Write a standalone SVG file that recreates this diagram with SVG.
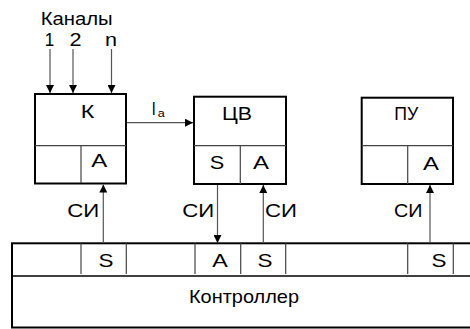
<svg xmlns="http://www.w3.org/2000/svg" width="470" height="329" viewBox="0 0 470 329">
<defs>
<marker id="ah" viewBox="0 0 10 10" refX="10" refY="5" markerWidth="8" markerHeight="8" markerUnits="userSpaceOnUse" orient="auto">
<path d="M0,0 L10,5 L0,10 z" fill="#000"/>
</marker>
<style>
text{font-family:"Liberation Sans",Arial,sans-serif;font-size:17.5px;fill:#000;text-anchor:middle}
.big{font-size:19px}
.box{fill:#fff;stroke:#000;stroke-width:2}
.div{stroke:#444;stroke-width:1.2;fill:none}
.arr{stroke:#555;stroke-width:1.2;fill:none;marker-end:url(#ah)}
</style>
</defs>
<rect width="470" height="329" fill="#fff"/>
<g id="inputs">
<text x="76.7" y="25" textLength="72" lengthAdjust="spacingAndGlyphs">Каналы</text>
<text x="49.5" y="46" textLength="9.5" lengthAdjust="spacingAndGlyphs">1</text>
<text x="75.5" y="46" textLength="12" lengthAdjust="spacingAndGlyphs">2</text>
<text x="111" y="46" textLength="12" lengthAdjust="spacingAndGlyphs">n</text>
</g>
<g id="node-K">
<rect class="box" x="35" y="94" width="91" height="89.5"/>
<line class="div" x1="35" y1="145.7" x2="126" y2="145.7"/>
<line class="div" x1="81" y1="145.7" x2="81" y2="183"/>
<text x="87.5" y="118" textLength="13.5" lengthAdjust="spacingAndGlyphs">К</text>
<text x="99.2" y="167" textLength="16" lengthAdjust="spacingAndGlyphs">A</text>
</g>
<g id="node-CV">
<rect class="box" x="194" y="96.7" width="92" height="87.3"/>
<line class="div" x1="194" y1="145.7" x2="286" y2="145.7"/>
<line class="div" x1="240.3" y1="145.7" x2="240.3" y2="184"/>
<text x="236.9" y="120" textLength="30" lengthAdjust="spacingAndGlyphs">ЦВ</text>
<text x="217" y="169.3" textLength="14.5" lengthAdjust="spacingAndGlyphs">S</text>
<text x="261" y="169.3" textLength="16" lengthAdjust="spacingAndGlyphs">A</text>
</g>
<g id="node-PU">
<rect class="box" x="361.7" y="97.7" width="91.3" height="86.3"/>
<line class="div" x1="361.7" y1="145.7" x2="453" y2="145.7"/>
<line class="div" x1="407.7" y1="145.7" x2="407.7" y2="184"/>
<text x="406.2" y="120" textLength="24" lengthAdjust="spacingAndGlyphs">ПУ</text>
<text x="431" y="170" textLength="16" lengthAdjust="spacingAndGlyphs">A</text>
</g>
<g id="node-controller">
<rect class="box" x="12" y="243.3" width="462" height="84.2"/>
<line x1="12" y1="276" x2="474" y2="276" stroke="#000" stroke-width="1.5"/>
<line class="div" x1="81" y1="243.3" x2="81" y2="274"/>
<line class="div" x1="126.3" y1="243.3" x2="126.3" y2="274"/>
<line class="div" x1="195" y1="243.3" x2="195" y2="274"/>
<line class="div" x1="240.7" y1="243.3" x2="240.7" y2="274"/>
<line class="div" x1="285.7" y1="243.3" x2="285.7" y2="274"/>
<line class="div" x1="407.7" y1="243.3" x2="407.7" y2="274"/>
<line class="div" x1="453.3" y1="243.3" x2="453.3" y2="274"/>
<text x="106" y="266.7" textLength="15" lengthAdjust="spacingAndGlyphs">S</text>
<text x="220" y="266.7" textLength="15.5" lengthAdjust="spacingAndGlyphs">A</text>
<text x="265" y="266.7" textLength="15" lengthAdjust="spacingAndGlyphs">S</text>
<text x="439" y="266.7" textLength="15" lengthAdjust="spacingAndGlyphs">S</text>
<text class="big" x="244" y="303" textLength="110" lengthAdjust="spacingAndGlyphs">Контроллер</text>
</g>
<g id="connectors">
<line class="arr" x1="50" y1="49" x2="50" y2="93"/>
<line class="arr" x1="73" y1="49" x2="73" y2="93"/>
<line class="arr" x1="111.5" y1="49" x2="111.5" y2="93"/>
<line class="arr" x1="127" y1="122.7" x2="193" y2="122.7"/>
<text x="153.8" y="115" textLength="4" lengthAdjust="spacingAndGlyphs">I</text>
<text x="161.2" y="117" style="font-size:11.5px" textLength="7" lengthAdjust="spacingAndGlyphs">a</text>
<line class="arr" x1="103.3" y1="243" x2="103.3" y2="184.5"/>
<text class="big" x="83.3" y="217.3" textLength="32" lengthAdjust="spacingAndGlyphs">СИ</text>
<line class="arr" x1="217.5" y1="185" x2="217.5" y2="243"/>
<text class="big" x="198.3" y="217.3" textLength="32" lengthAdjust="spacingAndGlyphs">СИ</text>
<line class="arr" x1="263.3" y1="243" x2="263.3" y2="185"/>
<text class="big" x="281" y="217.3" textLength="32" lengthAdjust="spacingAndGlyphs">СИ</text>
<line class="arr" x1="430" y1="243" x2="430" y2="185"/>
<text class="big" x="408.3" y="217.3" textLength="28.5" lengthAdjust="spacingAndGlyphs">СИ</text>
</g>
</svg>
